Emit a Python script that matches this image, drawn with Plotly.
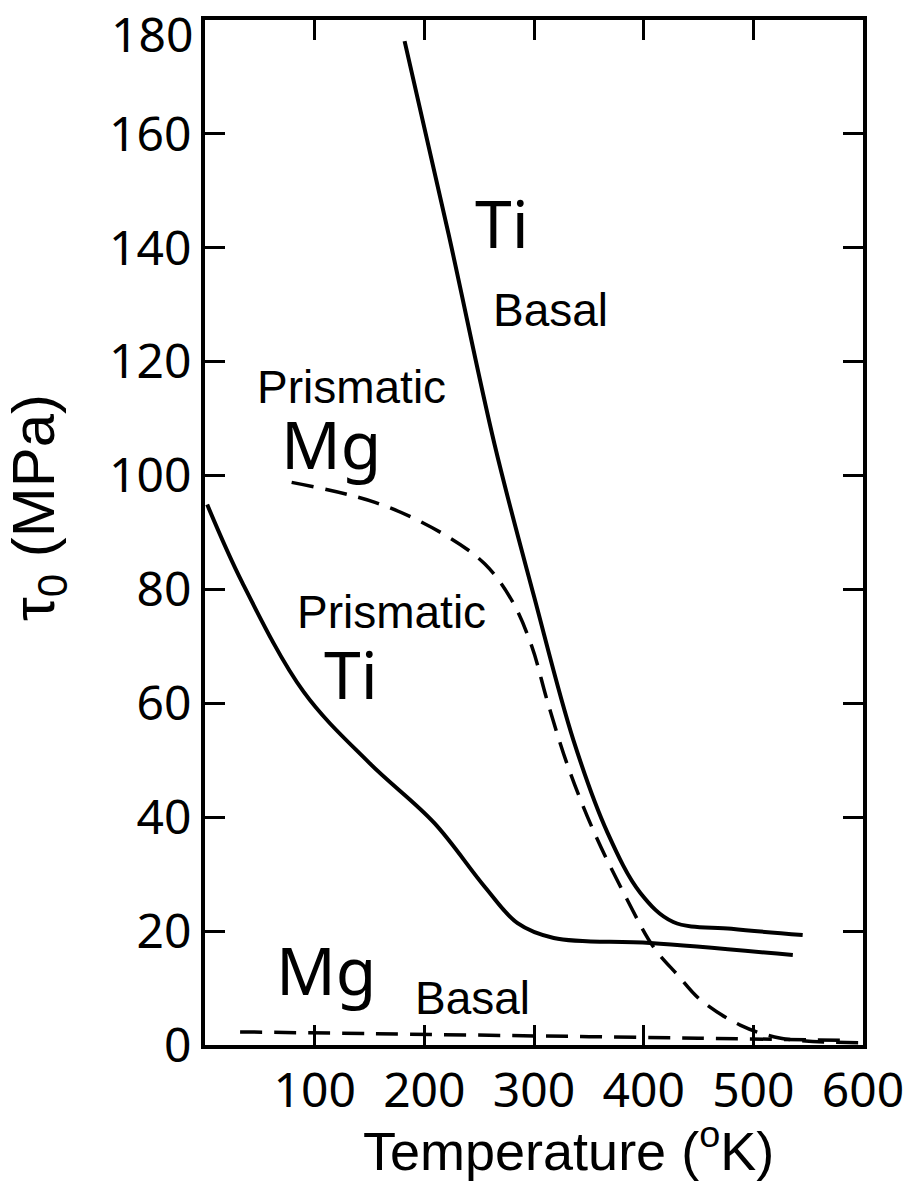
import plotly.graph_objects as go

# Ti basal (solid)
ti_basal_T = [182, 222, 264, 300, 336, 367, 397, 427, 480, 545]
ti_basal_tau = [176.3, 142.5, 105.5, 78.8, 53.5, 37.3, 26.7, 21.6, 20.4, 19.3]

# Ti prismatic (solid)
ti_prism_T = [2, 34, 90, 150, 209, 255, 285, 318, 406, 536]
ti_prism_tau = [94.9, 81.2, 62.0, 49.5, 39, 27.8, 21.4, 18.8, 17.9, 15.8]

# Mg prismatic (dashed)
mg_prism_T = [79, 155, 215, 255, 280, 298, 312, 331, 355, 385, 409, 431, 452, 488, 525, 597]
mg_prism_tau = [98.8, 95.3, 90, 84.5, 78.0, 70.0, 60.5, 48.9, 37.3, 25.5, 17.2, 12.3, 7.9, 3.5, 1.2, 0.4]

# Mg basal (dashed)
mg_basal_T = [32, 150, 300, 450, 590]
mg_basal_tau = [2.3, 2.0, 1.6, 1.2, 0.8]

x_ticks = [100, 200, 300, 400, 500, 600]
y_ticks = [0, 20, 40, 60, 80, 100, 120, 140, 160, 180]
y_ticktext = ["0", "20", "40", "60", "80", "100", "120", "140", "160", ""]
top_label = "180"

fig = go.Figure()
solid = dict(color="black", width=4, shape="spline", smoothing=1.0)
dashed = dict(color="black", width=3.5, dash="22px,12px", shape="spline", smoothing=1.0)

fig.add_trace(go.Scatter(x=ti_basal_T, y=ti_basal_tau, mode="lines", line=solid))
fig.add_trace(go.Scatter(x=ti_prism_T, y=ti_prism_tau, mode="lines", line=solid))
fig.add_trace(go.Scatter(x=mg_prism_T, y=mg_prism_tau, mode="lines", line=dashed))
fig.add_trace(go.Scatter(x=mg_basal_T, y=mg_basal_tau, mode="lines", line=dashed))

big = dict(family="Noto Sans", size=66, color="black")
small = dict(family="Liberation Sans, Arial", size=46, color="black")

labels = [
    ("Ti", 271, 144.6, big),
    ("Basal", 315, 129, small),
    ("Prismatic", 134, 115.5, small),
    ("Mg", 115, 105.8, big),
    ("Prismatic", 170, 76, small),
    ("Ti", 133, 65.4, big),
    ("Mg", 110, 13.3, big),
    ("Basal", 244, 8.3, small),
]
for txt, x, y, f in labels:
    fig.add_annotation(x=x, y=y, xref="x", yref="y", text=txt, showarrow=False,
                       font=f, xanchor="center", yanchor="middle")

# top y tick label (drawn slightly lower, as in the original)
fig.add_annotation(x=0, y=(1045 - 33) / 1025, xref="paper", yref="paper",
                   text=top_label, showarrow=False, xshift=-10,
                   font=dict(family="Noto Sans", size=48, color="black"),
                   xanchor="right", yanchor="middle")

# axis titles
fig.add_annotation(x=(568 - 205) / 658, y=-(1147 - 1045) / 1025, xref="paper", yref="paper",
                   text="Temperature (<sup>o</sup>K)", showarrow=False,
                   font=dict(family="Liberation Sans, Arial", size=54, color="black"),
                   xanchor="center", yanchor="middle")
fig.add_annotation(x=-(205 - 38) / 658, y=(1045 - 508) / 1025, xref="paper", yref="paper",
                   text="τ<sub>0</sub> (MPa)", showarrow=False, textangle=-90,
                   font=dict(family="Liberation Sans, Arial", size=60, color="black"),
                   xanchor="center", yanchor="middle")

fig.update_layout(
    width=915, height=1185,
    margin=dict(l=205, r=52, t=20, b=140, autoexpand=False),
    paper_bgcolor="white", plot_bgcolor="white",
    showlegend=False,
    font=dict(family="Noto Sans", color="black"),
)
fig.update_xaxes(
    range=[0, 600], tickvals=x_ticks, ticktext=[str(v) for v in x_ticks],
    showgrid=False, zeroline=False,
    showline=True, linecolor="black", linewidth=4, mirror="ticks",
    ticks="inside", ticklen=20, tickwidth=3, tickcolor="black",
    ticklabeloverflow="allow",
    tickfont=dict(family="Noto Sans", size=48, color="black"),
)
fig.update_yaxes(
    range=[0, 180], tickvals=y_ticks, ticktext=y_ticktext,
    showgrid=False, zeroline=False,
    showline=True, linecolor="black", linewidth=4, mirror="ticks",
    ticks="inside", ticklen=20, tickwidth=3, tickcolor="black",
    ticklabeloverflow="allow",
    tickfont=dict(family="Noto Sans", size=48, color="black"),
)

fig.write_html("out.html")
